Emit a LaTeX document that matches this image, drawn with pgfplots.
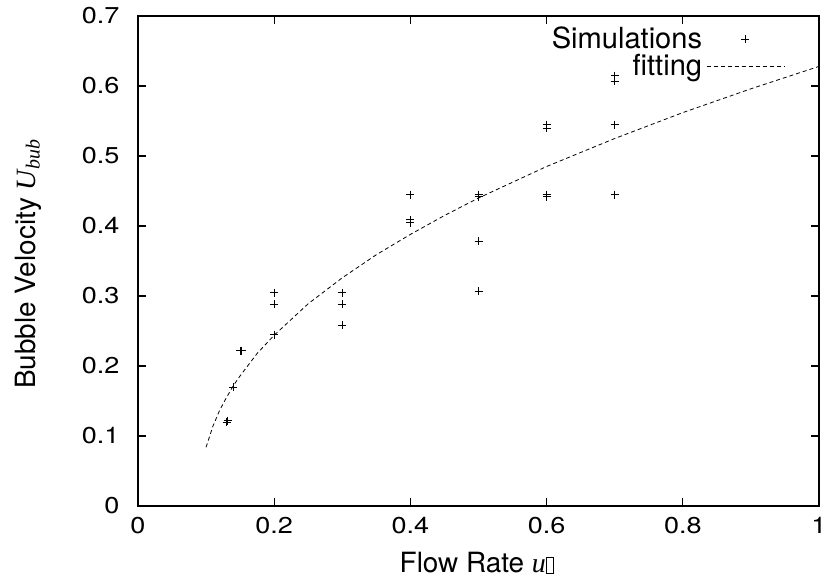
\documentclass[border=0pt]{standalone}
\usepackage{fontspec}
\setmainfont{TeX Gyre Heros}
\newfontfamily\tickfont{TeX Gyre Heros}[FakeStretch=1.18]
\newfontfamily\tms{Liberation Serif}
\usepackage{pgfplots}
\pgfplotsset{compat=1.18}

\begin{document}
\begin{tikzpicture}
\useasboundingbox (-69bp,-36.5bp) rectangle (344bp,253bp);
\begin{axis}[
  scale only axis,
  width=340.5bp, height=245bp,
  xmin=0, xmax=1, ymin=0, ymax=0.7,
  xtick={0,0.2,0.4,0.6,0.8,1},
  ytick={0,0.1,0.2,0.3,0.4,0.5,0.6,0.7},
  tick align=inside,
  major tick length=4bp,
  axis line style={line width=0.8bp},
  tick style={line width=0.6bp, black},
  /pgf/number format/assume math mode=true,
  tick label style={font=\tickfont\fontsize{11.5}{14}\selectfont},
  yticklabel style={xshift=-5.8bp},
  xticklabel style={yshift=-2.35bp},
  xlabel={Flow Rate {\tms\itshape u}{\setlength{\fboxsep}{0pt}\setlength{\fboxrule}{0.4pt}\fbox{\phantom{\rule{3.4pt}{7.5pt}}}}},
  ylabel={Bubble Velocity {\tms\itshape U\kern0.5pt\raisebox{-0.35ex}{\fontsize{10}{11}\selectfont bub}}},
  xlabel style={font=\fontsize{14}{16}\selectfont, at={(axis description cs:0.5,0)}, anchor=center, yshift=-28.5bp, xshift=-0.75bp},
  ylabel style={font=\fontsize{14}{16}\selectfont, at={(axis description cs:0,0.5)}, anchor=center, yshift=55bp, xshift=-1.5bp},
  legend plot pos=right,
  legend cell align=right,
  legend style={draw=none, fill=none, at={(rel axis cs:0.958,0.99)}, anchor=north east,
    font=\fontsize{14.6}{17}\selectfont, row sep=0pt, nodes={inner ysep=0.7pt}},
  legend image code/.code={\draw[mark repeat=2,mark phase=2,#1] plot coordinates {(0.64cm,0cm) (1.32cm,0cm) (2.0cm,0cm)};},
]
\addplot[only marks, mark=+, mark size=2bp, black, line width=0.45bp] coordinates {
  (0.13,0.120) (0.132,0.122)
  (0.14,0.170)
  (0.15,0.222) (0.152,0.222)
  (0.2,0.245) (0.2,0.288) (0.2,0.305)
  (0.3,0.258) (0.3,0.288) (0.3,0.305)
  (0.4,0.405) (0.4,0.409) (0.4,0.445)
  (0.5,0.307) (0.5,0.378) (0.5,0.442) (0.5,0.445)
  (0.6,0.442) (0.6,0.445) (0.6,0.540) (0.6,0.545)
  (0.7,0.445) (0.7,0.545) (0.7,0.607) (0.7,0.615)
};
\addlegendentry{Simulations}
\addplot[black, line width=0.4bp, dash pattern=on 2bp off 1.5bp, mark=none] coordinates {
  (0.10,0.084) (0.11,0.114) (0.12,0.137) (0.13,0.155) (0.14,0.172)
  (0.15,0.186) (0.175,0.218) (0.2,0.244) (0.25,0.289) (0.3,0.326)
  (0.35,0.359) (0.4,0.388) (0.45,0.415) (0.5,0.440) (0.6,0.485)
  (0.7,0.525) (0.8,0.562) (0.9,0.596) (1.0,0.628)
};
\addlegendentry{fitting}
\end{axis}
\end{tikzpicture}
\end{document}
